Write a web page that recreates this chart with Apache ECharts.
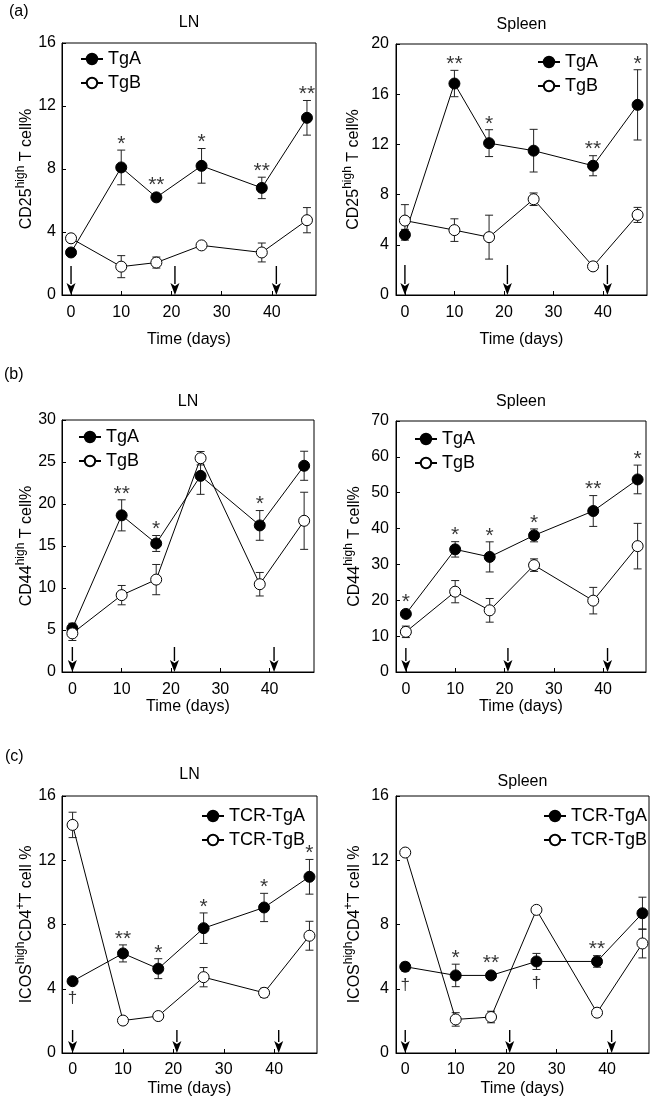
<!DOCTYPE html>
<html><head><meta charset="utf-8">
<script src="https://cdn.jsdelivr.net/npm/echarts@6/dist/echarts.min.js"></script>
<style>html,body{margin:0;padding:0;background:#fff}#c{width:653px;height:1101px}</style>
</head><body><div id="c"></div>
<script>
// ---------- DATA ----------
const days = [0, 10, 17, 26, 38, 47];
const arrowDays = [0, 20.7, 40.9];
const xTickValues = [0, 10, 20, 30, 40];

// (a) CD25high, LN
const aLN_TgA     = [2.7, 8.1, 6.2, 8.2, 6.8, 11.25];
const aLN_TgA_err = [0, 1.1, 0, 1.1, 0.68, 1.1];
const aLN_TgA_sig = ['', '*', '**', '*', '**', '**'];
const aLN_TgB     = [3.6, 1.8, 2.06, 3.15, 2.7, 4.75];
const aLN_TgB_err = [0, 0.7, 0.35, 0, 0.6, 0.8];

// (a) CD25high, Spleen
const aSp_TgA     = [4.8, 16.85, 12.1, 11.5, 10.3, 15.15];
const aSp_TgA_err = [0.43, 1.05, 1.07, 1.7, 0.8, 2.8];
const aSp_TgA_sig = ['', '**', '*', '', '**', '*'];
const aSp_TgB     = [5.93, 5.17, 4.61, 7.63, 2.28, 6.38];
const aSp_TgB_err = [1.27, 0.9, 1.75, 0.5, 0, 0.6];

// (b) CD44high, LN
const bLN_TgA     = [5.2, 18.65, 15.3, 23.35, 17.45, 24.55];
const bLN_TgA_err = [0.6, 1.85, 0.95, 2.2, 1.77, 1.73];
const bLN_TgA_sig = ['', '**', '*', '', '*', ''];
const bLN_TgB     = [4.6, 9.15, 11.0, 25.45, 10.45, 18.0];
const bLN_TgB_err = [0.85, 1.15, 1.8, 0.8, 1.4, 3.4];

// (b) CD44high, Spleen
const bSp_TgA     = [16.2, 34.2, 32.1, 38.1, 44.9, 53.7];
const bSp_TgA_err = [0, 2.15, 4.2, 1.8, 4.3, 4.0];
const bSp_TgA_sig = ['*', '*', '*', '*', '**', '*'];
const bSp_TgB     = [11.2, 22.4, 17.2, 29.8, 19.9, 35.1];
const bSp_TgB_err = [1.6, 3.1, 3.3, 1.75, 3.7, 6.35];

// (c) ICOShigh CD4+, LN
const cLN_TgA     = [4.47, 6.2, 5.25, 7.77, 9.06, 10.97];
const cLN_TgA_err = [0, 0.53, 0.62, 0.95, 0.88, 1.08];
const cLN_TgA_sig = ['', '**', '*', '*', '*', '*'];
const cLN_TgA_dag = ['†', '', '', '', '', ''];
const cLN_TgB     = [14.2, 2.02, 2.3, 4.72, 3.75, 7.3];
const cLN_TgB_err = [0.79, 0, 0, 0.6, 0.28, 0.9];

// (c) ICOShigh CD4+, Spleen
const cSp_TgA     = [5.37, 4.83, 4.83, 5.7, 5.7, 8.7];
const cSp_TgA_err = [0.27, 0.7, 0, 0.5, 0.36, 1.0];
const cSp_TgA_sig = ['', '*', '**', '', '**', ''];
const cSp_TgA_dag = ['†', '', '', '†', '', ''];
const cSp_TgB     = [12.48, 2.09, 2.24, 8.91, 2.51, 6.82];
const cSp_TgB_err = [0, 0.42, 0.36, 0, 0, 0.9];

const yTicksA_LN = {max: 16, step: 4};
const yTicksA_Sp = {max: 20, step: 4};
const yTicksB_LN = {max: 30, step: 5};
const yTicksB_Sp = {max: 70, step: 10};
const yTicksC    = {max: 16, step: 4};

const namesAB = ['TgA', 'TgB'];
const namesC  = ['TCR-TgA', 'TCR-TgB'];

// ---------- PANELS (data refs + layout) ----------
const FONT = '"Liberation Sans", Arial, Helvetica, sans-serif';
const panels = [
  {title:'LN', titleY:23, yName:'{m|CD25}{s|high}{m| T cell%}', yt:yTicksA_LN,
   A:aLN_TgA, Ae:aLN_TgA_err, As:aLN_TgA_sig, Ad:null, B:aLN_TgB, Be:aLN_TgB_err, names:namesAB,
   grid:{left:62, top:43, width:254, height:252}, xr:[-1.8, 48.8], yGap:27, xGap:37, lblM:10, yM:6,
   legend:{left:75, top:45}, arrowLen:29},
  {title:'Spleen', titleY:25, yName:'{m|CD25}{s|high}{m| T cell%}', yt:yTicksA_Sp,
   A:aSp_TgA, Ae:aSp_TgA_err, As:aSp_TgA_sig, Ad:null, B:aSp_TgB, Be:aSp_TgB_err, names:namesAB,
   grid:{left:396, top:44, width:251, height:251}, xr:[-1.8, 48.9], yGap:34, xGap:37, lblM:10, yM:7,
   legend:{left:532, top:48}, arrowLen:30},
  {title:'LN', titleY:402, yName:'{m|CD44}{s|high}{m| T cell%}', yt:yTicksB_LN,
   A:bLN_TgA, Ae:bLN_TgA_err, As:bLN_TgA_sig, Ad:null, B:bLN_TgB, Be:bLN_TgB_err, names:namesAB,
   grid:{left:62, top:420, width:252, height:252}, xr:[-2.1, 49.0], yGap:27, xGap:27, lblM:10, yM:6,
   legend:{left:73, top:423}, arrowLen:25},
  {title:'Spleen', titleY:402, yName:'{m|CD44}{s|high}{m| T cell%}', yt:yTicksB_Sp,
   A:bSp_TgA, Ae:bSp_TgA_err, As:bSp_TgA_sig, Ad:null, B:bSp_TgB, Be:bSp_TgB_err, names:namesAB,
   grid:{left:396, top:421, width:250, height:251}, xr:[-2.0, 48.7], yGap:33, xGap:27, lblM:10, yM:7,
   legend:{left:409, top:425}, arrowLen:24},
  {title:'LN', titleY:775, yName:'{m|ICOS}{s|high}{m|CD4}{s|+}{m|T cell %}', yt:yTicksC,
   A:cLN_TgA, Ae:cLN_TgA_err, As:cLN_TgA_sig, Ad:cLN_TgA_dag, B:cLN_TgB, Be:cLN_TgB_err, names:namesC,
   grid:{left:62, top:796, width:255, height:257}, xr:[-2.1, 48.5], yGap:27, xGap:28, lblM:9, yM:6,
   legend:{left:196, top:802}, arrowLen:23},
  {title:'Spleen', titleY:782, yName:'{m|ICOS}{s|high}{m|CD4}{s|+}{m|T cell %}', yt:yTicksC,
   A:cSp_TgA, Ae:cSp_TgA_err, As:cSp_TgA_sig, Ad:cSp_TgA_dag, B:cSp_TgB, Be:cSp_TgB_err, names:namesC,
   grid:{left:396, top:796, width:253, height:257}, xr:[-1.83, 48.3], yGap:33, xGap:28, lblM:9, yM:7,
   legend:{left:538, top:802}, arrowLen:23}
];
const panelLetters = [{t:'(a)', x:9, y:12}, {t:'(b)', x:4, y:375}, {t:'(c)', x:5, y:757}];

// ---------- RENDER HELPERS ----------
function errRender(params, api) {
  const x = api.value(0), v = api.value(1), e = api.value(2);
  if (!e) return null;
  const t = api.coord([x, v + e]), b = api.coord([x, v - e]);
  const w = 4, st = {stroke: '#222', lineWidth: 1};
  return {type: 'group', children: [
    {type: 'line', shape: {x1: t[0], y1: t[1], x2: b[0], y2: b[1]}, style: st},
    {type: 'line', shape: {x1: t[0] - w, y1: t[1], x2: t[0] + w, y2: t[1]}, style: st},
    {type: 'line', shape: {x1: b[0] - w, y1: b[1], x2: b[0] + w, y2: b[1]}, style: st}
  ]};
}
function arrowRender(len) {
  return function (params, api) {
    const p = api.coord([api.value(0), 0]);
    const hx = 4.5, hy = 12;
    return {type: 'group', children: [
      {type: 'line', shape: {x1: p[0], y1: p[1] - len, x2: p[0], y2: p[1] - hy + 1}, style: {stroke: '#000', lineWidth: 1.4}},
      {type: 'polygon', shape: {points: [[p[0] - hx, p[1] - hy], [p[0], p[1] - hy + 3], [p[0] + hx, p[1] - hy], [p[0], p[1]]]}, style: {fill: '#000'}}
    ]};
  };
}

const grids = [], xAxes = [], yAxes = [], series = [], legends = [], graphics = [];
panels.forEach((P, i) => {
  grids.push(Object.assign({show: true, borderColor: '#000', borderWidth: 1, backgroundColor: 'transparent'}, P.grid));
  xAxes.push({gridIndex: i, type: 'value', min: P.xr[0], max: P.xr[1],
    name: 'Time (days)', nameLocation: 'middle', nameGap: P.xGap,
    nameTextStyle: {fontSize: 16, color: '#000', fontFamily: FONT},
    axisLine: {show: true, onZero: false, lineStyle: {color: '#000', width: 1}},
    axisTick: {show: true, inside: true, length: 4, customValues: xTickValues, lineStyle: {color: '#000'}},
    axisLabel: {show: true, customValues: xTickValues, fontSize: 16, color: '#000', margin: P.lblM, fontFamily: FONT},
    splitLine: {show: false}});
  yAxes.push({gridIndex: i, type: 'value', min: 0, max: P.yt.max, interval: P.yt.step,
    name: P.yName, nameLocation: 'middle', nameGap: P.yGap, nameRotate: 90,
    nameTextStyle: {color: '#000', fontFamily: FONT, rich: {
      m: {fontSize: 16, lineHeight: 20, verticalAlign: 'bottom', color: '#000', fontFamily: FONT},
      s: {fontSize: 12, lineHeight: 10, verticalAlign: 'top', color: '#000', fontFamily: FONT}}},
    axisLine: {show: true, onZero: false, lineStyle: {color: '#000', width: 1}},
    axisTick: {show: true, inside: true, length: 4, lineStyle: {color: '#000'}},
    axisLabel: {fontSize: 16, color: '#000', margin: P.yM, fontFamily: FONT},
    splitLine: {show: false}});

  const ax = {xAxisIndex: i, yAxisIndex: i};
  series.push(Object.assign({type: 'custom', renderItem: errRender, z: 1, silent: true,
    data: days.map((d, j) => [d, P.A[j], P.Ae[j]])}, ax));
  series.push(Object.assign({type: 'custom', renderItem: errRender, z: 1, silent: true,
    data: days.map((d, j) => [d, P.B[j], P.Be[j]])}, ax));
  series.push(Object.assign({type: 'line', name: P.names[0], z: 2, symbol: 'circle', symbolSize: 11,
    showAllSymbol: true, itemStyle: {color: '#000', borderColor: '#000', borderWidth: 1},
    lineStyle: {color: '#000', width: 1}, data: days.map((d, j) => [d, P.A[j]])}, ax));
  series.push(Object.assign({type: 'line', name: P.names[1], z: 3, symbol: 'circle', symbolSize: 11,
    showAllSymbol: true, itemStyle: {color: '#fff', borderColor: '#000', borderWidth: 1},
    lineStyle: {color: '#000', width: 1}, data: days.map((d, j) => [d, P.B[j]])}, ax));
  series.push(Object.assign({type: 'custom', renderItem: arrowRender(P.arrowLen), z: 4, silent: true,
    data: arrowDays.map(d => [d, 0])}, ax));
  // significance stars above TgA
  const sigData = [];
  days.forEach((d, j) => {
    if (P.As[j]) sigData.push({value: [d, P.A[j] + P.Ae[j]],
      label: {formatter: P.As[j], distance: P.Ae[j] ? -5 : 1}});
  });
  series.push(Object.assign({type: 'scatter', z: 5, silent: true, symbolSize: 1,
    itemStyle: {color: 'rgba(0,0,0,0)'},
    label: {show: true, position: 'top', color: '#000', fontSize: 21, fontFamily: FONT},
    data: sigData}, ax));
  if (P.Ad) {
    const dagData = [];
    days.forEach((d, j) => {
      if (P.Ad[j]) dagData.push({value: [d, P.A[j] - P.Ae[j]],
        label: {formatter: P.Ad[j], distance: P.Ae[j] ? 5 : 8}});
    });
    series.push(Object.assign({type: 'scatter', z: 5, silent: true, symbolSize: 1,
      itemStyle: {color: 'rgba(0,0,0,0)'},
      label: {show: true, position: 'bottom', color: '#000', fontSize: 17, fontFamily: FONT},
      data: dagData}, ax));
  }
  legends.push({orient: 'vertical', left: P.legend.left, top: P.legend.top, itemWidth: 22, itemHeight: 13,
    itemGap: 6, selectedMode: false, data: P.names,
    textStyle: {fontSize: 18, color: '#000', fontFamily: FONT}});
  graphics.push({type: 'text', x: P.grid.left + P.grid.width / 2, y: P.titleY,
    style: {text: P.title, fill: '#000', font: '16px ' + FONT, align: 'center', verticalAlign: 'middle'}});
});
panelLetters.forEach(L => graphics.push({type: 'text', x: L.x, y: L.y,
  style: {text: L.t, fill: '#000', font: '16px ' + FONT, align: 'left', verticalAlign: 'middle'}}));

const chart = echarts.init(document.getElementById('c'), null, {renderer: 'canvas'});
chart.setOption({
  animation: false,
  backgroundColor: '#fff',
  textStyle: {fontFamily: FONT},
  grid: grids, xAxis: xAxes, yAxis: yAxes, legend: legends, series: series, graphic: graphics
});
</script></body></html>
